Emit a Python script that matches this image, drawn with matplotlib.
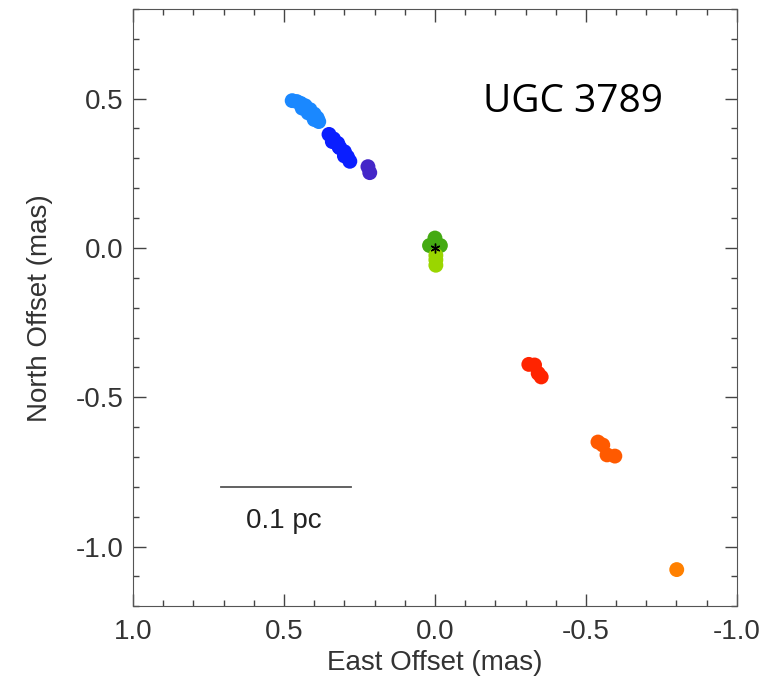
import numpy as np
import matplotlib.pyplot as plt
from matplotlib.ticker import MultipleLocator

plt.rcParams['font.family'] = ['Liberation Sans', 'DejaVu Sans']

# maser spot positions (mas)
east = [0.473, 0.458, 0.445, 0.430, 0.414, 0.400, 0.390, 0.385, 0.440, 0.420, 0.400,
        0.351, 0.336, 0.322, 0.315, 0.300, 0.290, 0.282, 0.340, 0.318, 0.300,
        0.222, 0.216,
        0.000, 0.018, -0.018, 0.000,
        -0.003, -0.003, -0.003,
        -0.311, -0.330, -0.342, -0.352,
        -0.540, -0.556, -0.570, -0.596,
        -0.801]
north = [0.493, 0.490, 0.484, 0.476, 0.463, 0.448, 0.435, 0.423, 0.468, 0.452, 0.430,
         0.380, 0.365, 0.350, 0.335, 0.322, 0.305, 0.290, 0.356, 0.338, 0.308,
         0.272, 0.252,
         0.033, 0.008, 0.008, 0.005,
         -0.025, -0.040, -0.058,
         -0.390, -0.392, -0.420, -0.432,
         -0.650, -0.660, -0.693, -0.697,
         -1.077]
group = [2] * 11 + [1] * 10 + [0] * 2 + [3] * 4 + [4] * 3 + [5] * 4 + [6] * 4 + [7]

colours = ['#4427c8', '#0a1eff', '#1a88ff', '#44aa12', '#9ad600',
           '#ff2400', '#ff5a00', '#ff8000']

fig = plt.figure(figsize=(7.83, 6.89), dpi=100)
ax = fig.add_axes([0.170, 0.120, 0.771, 0.867])

ax.scatter(east, north, s=115, c=[colours[g] for g in group], edgecolors='none')
ax.plot([0.0], [0.0], marker=(6, 2, 0), color='black', markersize=7,
        markeredgewidth=1.0, linestyle='none')

# scale bar
ax.plot([0.709, 0.278], [-0.80, -0.80], color='#555555', lw=1.3)
ax.text(0.50, -0.915, '0.1 pc', ha='center', va='center', fontsize=20, color='#222222')

ax.text(-0.16, 0.49, 'UGC 3789', fontsize=28, ha='left', va='center',
        family='Open Sans', color='black')

ax.set_xlim(1.0, -1.0)
ax.set_ylim(-1.2, 0.8)
ax.xaxis.set_major_locator(MultipleLocator(0.5))
ax.yaxis.set_major_locator(MultipleLocator(0.5))
ax.xaxis.set_minor_locator(MultipleLocator(0.1))
ax.yaxis.set_minor_locator(MultipleLocator(0.1))
ax.xaxis.set_major_formatter(lambda v, p: f'{v:.1f}')
ax.yaxis.set_major_formatter(lambda v, p: f'{v:.1f}')
ax.tick_params(which='both', direction='in', top=True, right=True,
               labelsize=20, colors='#444444', labelcolor='#333333')
ax.tick_params(which='major', length=9, width=1)
ax.tick_params(which='minor', length=4, width=1)
ax.tick_params(axis='x', which='major', pad=9)
ax.tick_params(axis='y', which='major', pad=7)
for sp in ax.spines.values():
    sp.set_color('#555555')

ax.set_xlabel('East Offset (mas)', fontsize=20, color='#333333', labelpad=4)
ax.set_ylabel('North Offset (mas)', fontsize=20, color='#333333', labelpad=16)

plt.savefig('out.png', dpi=100)
